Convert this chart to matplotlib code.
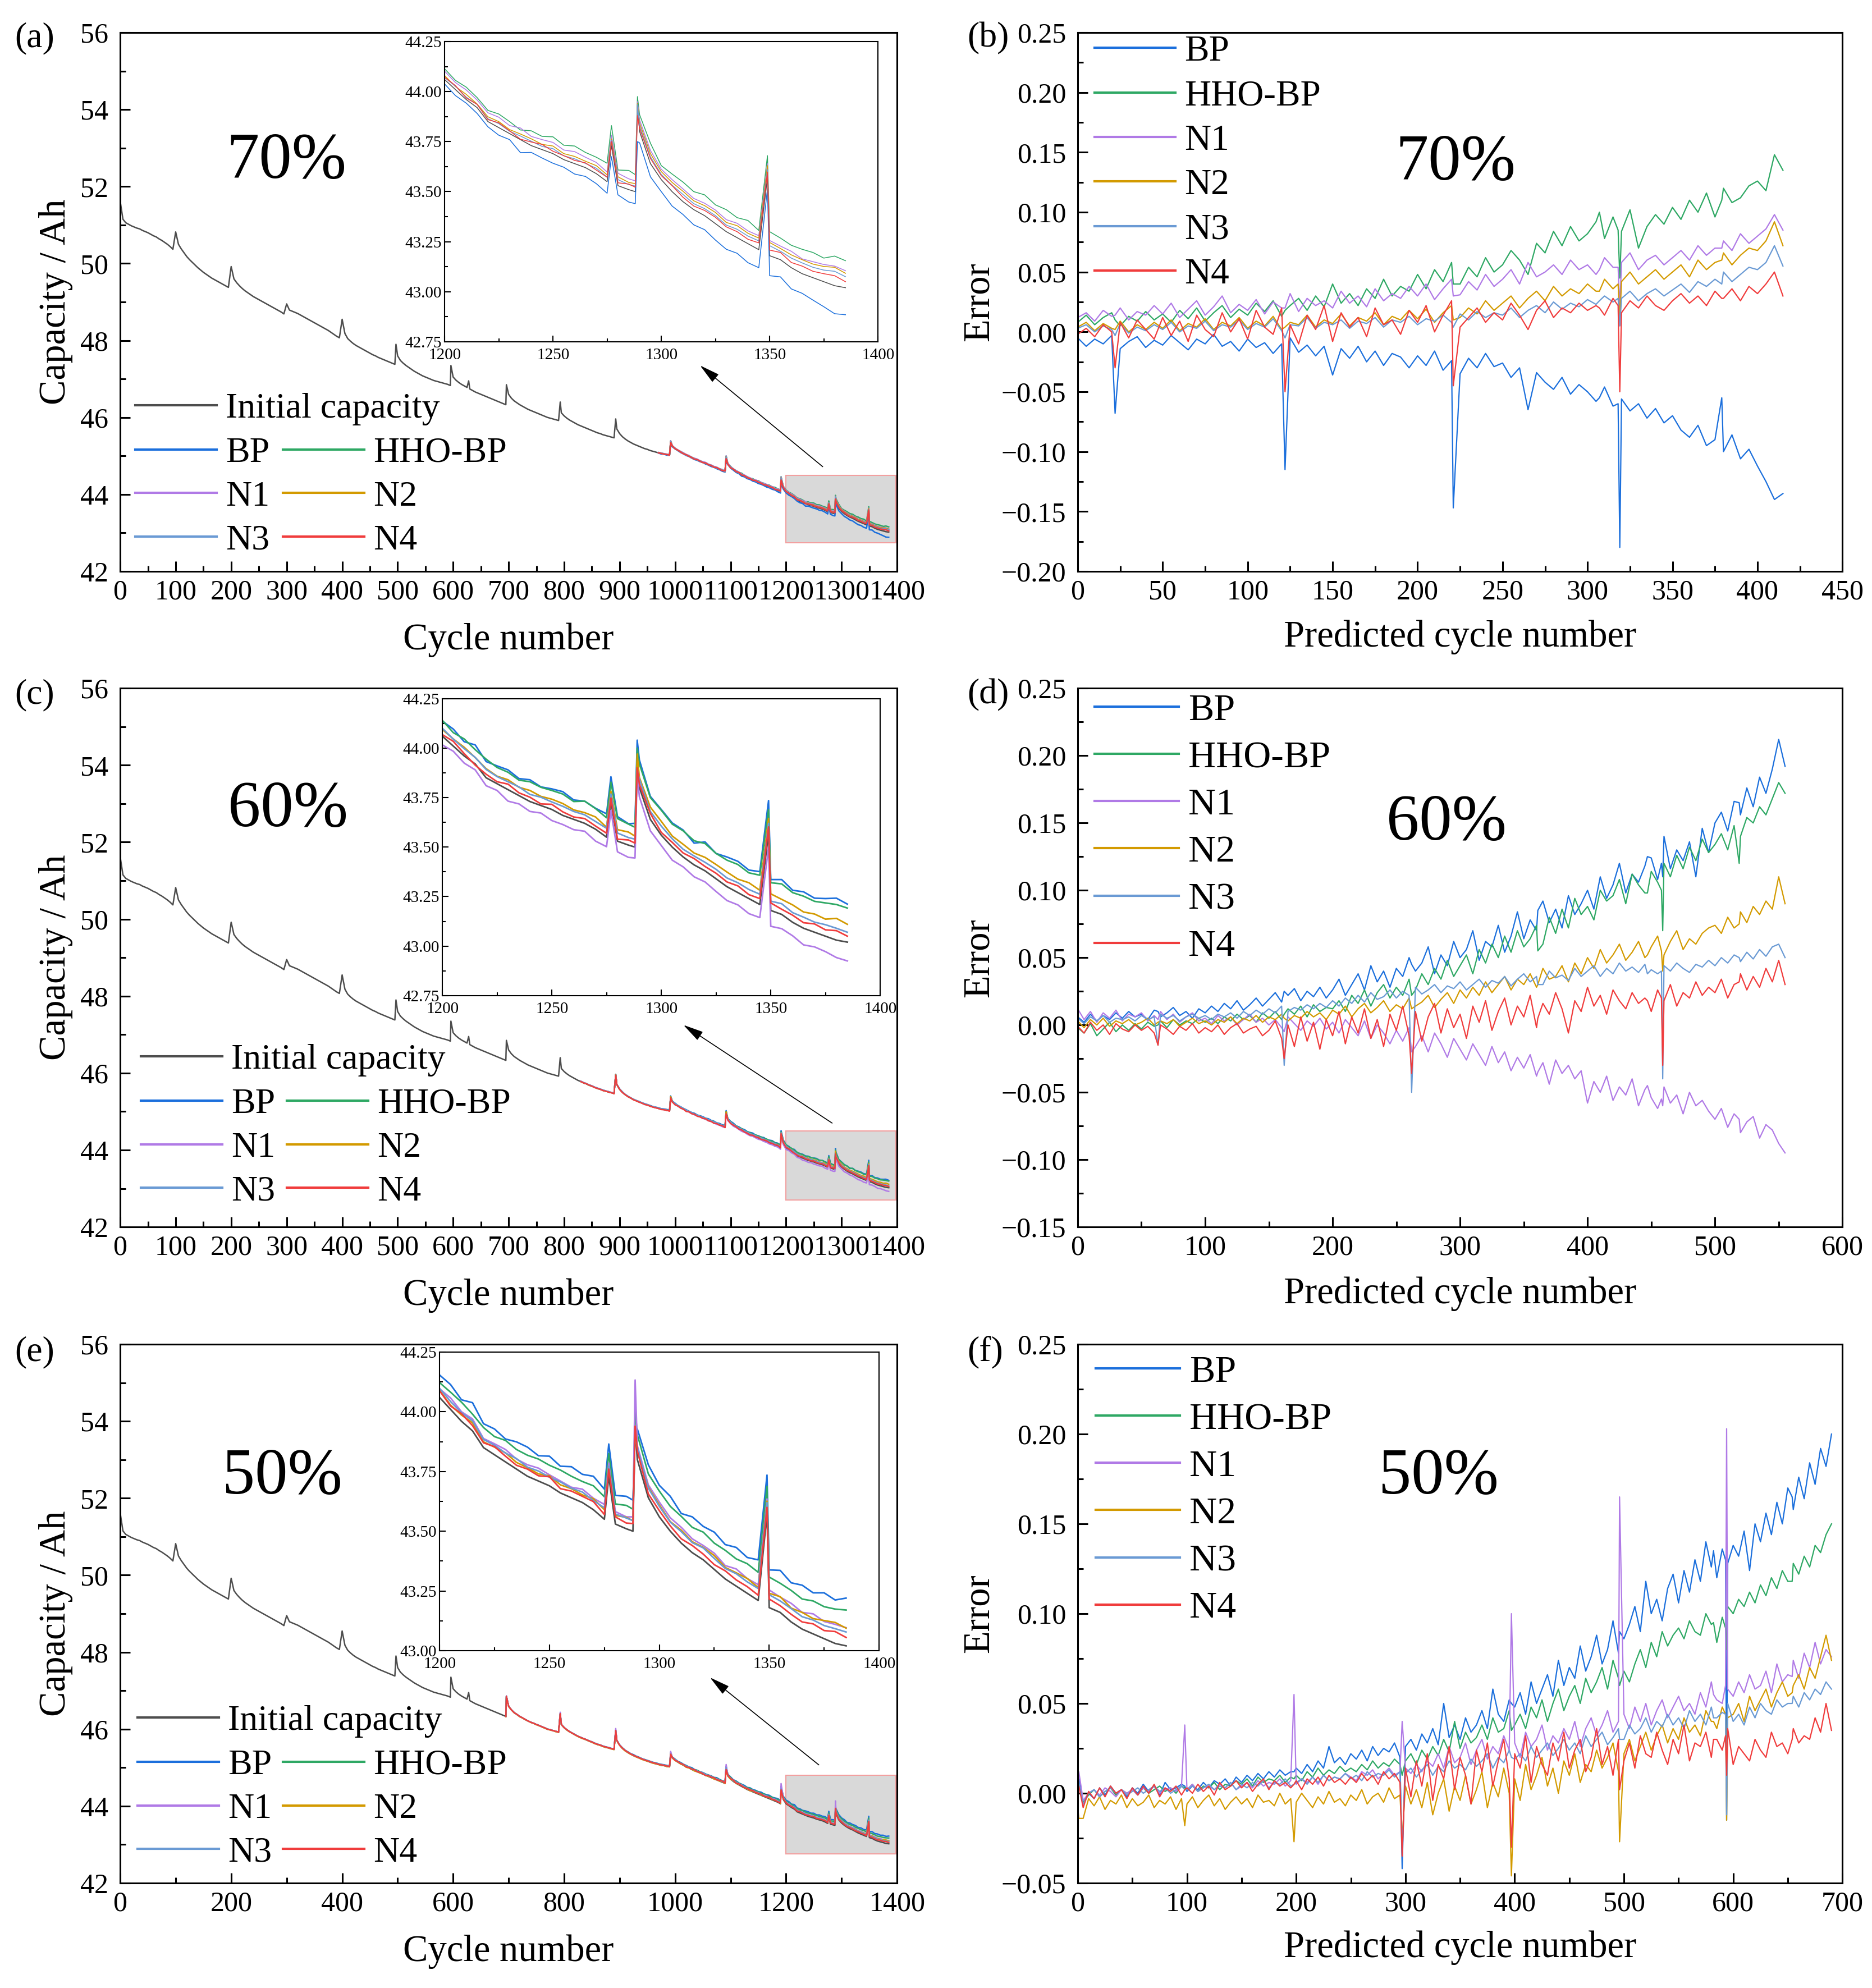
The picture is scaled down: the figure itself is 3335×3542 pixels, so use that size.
import numpy as np
import matplotlib
matplotlib.use('Agg')
import matplotlib.pyplot as plt
from matplotlib.patches import Rectangle
from matplotlib.ticker import MultipleLocator, FuncFormatter

plt.rcParams['font.family'] = ['Liberation Serif', 'DejaVu Serif']

# ---- measured capacity (Ah), one value every 5 cycles from cycle 0 to 1385
cap_init = [
    51.62, 51.15, 51.06, 51.02, 50.98, 50.95, 50.92, 50.90, 50.86, 50.83,
    50.80, 50.76, 50.72, 50.69, 50.64, 50.60, 50.55, 50.50, 50.44, 50.37,
    50.82, 50.50, 50.38, 50.28, 50.18, 50.10, 50.03, 49.96, 49.89, 49.83,
    49.77, 49.72, 49.67, 49.62, 49.58, 49.54, 49.50, 49.46, 49.42, 49.38,
    49.92, 49.60, 49.50, 49.42, 49.35, 49.29, 49.24, 49.19, 49.14, 49.10,
    49.06, 49.02, 48.98, 48.94, 48.90, 48.86, 48.82, 48.78, 48.74, 48.69,
    48.95, 48.79, 48.76, 48.73, 48.70, 48.66, 48.62, 48.58, 48.54, 48.50,
    48.46, 48.42, 48.38, 48.34, 48.30, 48.26, 48.21, 48.16, 48.11, 48.07,
    48.55, 48.18, 48.05, 47.98, 47.92, 47.87, 47.83, 47.79, 47.75, 47.71,
    47.67, 47.63, 47.60, 47.56, 47.53, 47.50, 47.47, 47.44, 47.41, 47.38,
    47.60, 47.48, 47.41, 47.35, 47.30, 47.25, 47.20, 47.16, 47.12, 47.08,
    47.05, 47.02, 46.99, 46.96, 46.94, 46.92, 46.90, 46.88, 46.86, 46.83,
    47.05, 46.97, 46.91, 46.86, 46.82, 46.78, 46.74, 46.70, 46.66, 46.63,
    46.60, 46.57, 46.54, 46.51, 46.48, 46.45, 46.42, 46.39, 46.36, 46.33,
    46.60, 46.50, 46.43, 46.38, 46.33, 46.29, 46.25, 46.21, 46.18, 46.15,
    46.12, 46.09, 46.06, 46.03, 46.00, 45.98, 45.96, 45.94, 45.92, 46.12,
    46.04, 45.98, 45.93, 45.89, 45.85, 45.81, 45.78, 45.75, 45.72, 45.69,
    45.66, 45.63, 45.60, 45.58, 45.55, 45.53, 45.51, 45.49, 45.47, 45.70,
    45.58, 45.50, 45.44, 45.39, 45.35, 45.31, 45.28, 45.25, 45.22, 45.19,
    45.17, 45.14, 45.12, 45.10, 45.08, 45.06, 45.05, 45.03, 45.02, 45.25,
    45.19, 45.14, 45.10, 45.06, 45.02, 44.99, 44.95, 44.92, 44.89, 44.86,
    44.83, 44.80, 44.77, 44.74, 44.71, 44.68, 44.65, 44.62, 44.59, 44.78,
    44.70, 44.64, 44.59, 44.55, 44.51, 44.47, 44.43, 44.40, 44.37, 44.34,
    44.31, 44.28, 44.25, 44.22, 44.19, 44.16, 44.13, 44.10, 44.06, 44.17,
    44.06, 44.01, 43.96, 43.92, 43.85, 43.82, 43.79, 43.76, 43.73, 43.71,
    43.69, 43.66, 43.64, 43.62, 43.59, 43.55, 43.53, 43.51, 43.80, 43.64,
    43.56, 43.50, 43.45, 43.41, 43.38, 43.34, 43.30, 43.27, 43.24, 43.21,
    43.18, 43.16, 43.12, 43.09, 43.07, 43.05, 43.03, 43.02,
]
# capacity recovery peaks between the 5-cycle samples
peak_cycles = [497, 596, 628, 696, 793, 893, 992, 1092, 1191, 1277, 1288, 1289, 1349]
peak_cap = [47.90, 47.35, 46.95, 46.85, 46.40, 45.96, 45.38, 44.98, 44.42, 43.73, 43.50, 43.93, 43.57]

names = ['BP', 'HHO-BP', 'N1', 'N2', 'N3', 'N4']

# ---- prediction error x1000, 70 % training (prediction starts at cycle 970)
e70_bp = [
    -5, -12, -6, -10, -3, -14, -8, -4, -13, -7,
    -11, -3, -9, -15, -6, -10, -2, -12, -8, -16,
    -6, -13, -9, -18, -10, -5, -17, -11, -20, -12,
    -36, -14, -22, -12, -25, -16, -28, -18, -21, -30,
    -20, -28, -16, -32, -24, -35, -22, -30, -18, -29,
    -26, -38, -30, -65, -34, -42, -48, -38, -52, -44,
    -50, -58, -46, -62, -56, -66, -60, -72, -64, -76,
    -70, -82, -88, -78, -95, -90, -100, -86, -106, -98,
    -112, -125, -140, -135]
e70_hho = [
    8, 14, 6, 12, 16, 5, 13, 9, 17, 10,
    15, 8, 18, 11, 20, 9, 16, 22, 12, 19,
    14, 24, 17, 26, 13, 22, 28, 18, 30, 21,
    40, 24, 32, 22, 36, 28, 44, 30, 38, 34,
    48, 36, 52, 42, 58, 40, 54, 46, 62, 50,
    56, 68, 60, 48, 74, 66, 84, 72, 88, 76,
    82, 92, 78, 96, 84, 102, 70, 88, 98, 90,
    104, 94, 110, 100, 116, 96, 120, 108, 112, 122,
    126, 118, 148, 135]
e70_n1 = [
    12, 16, 9, 18, 13, 20, 10, 17, 14, 22,
    15, 24, 12, 19, 26, 14, 21, 30, 16, 23,
    18, 27, 15, 25, 20, 32, 17, 28, 22, 26,
    20, 34, 24, 30, 21, 36, 26, 32, 28, 38,
    30, 40, 27, 36, 44, 31, 42, 35, 48, 38,
    44, 52, 40, 58, 46, 50, 56, 48, 60, 52,
    56, 48, 62, 54, 58, 66, 52, 60, 64, 56,
    62, 68, 60, 72, 64, 70, 76, 68, 82, 74,
    80, 86, 98, 85]
e70_n2 = [
    4, 8, 1, 7, 3, 9, 0, 6, 2, 8,
    3, 10, 1, 7, 4, 11, 2, 8, 5, 12,
    3, 9, 5, 13, 2, 8, 6, 14, 4, 10,
    7, 15, 5, 12, 9, 16, 6, 13, 10, 18,
    11, 19, 8, 16, 22, 12, 20, 15, 26, 18,
    24, 30, 20, 28, 34, 26, 38, 30, 36, 32,
    40, 34, 44, 36, 42, 50, 40, 46, 52, 44,
    50, 56, 46, 60, 52, 58, 66, 56, 64, 70,
    68, 76, 92, 72]
e70_n3 = [
    3, 6, 0, 5, 2, 7, -1, 4, 1, 6,
    2, 8, 0, 5, 3, 9, 1, 6, 4, 10,
    2, 7, 4, 11, 1, 6, 5, 12, 3, 8,
    6, 10, 3, 9, 7, 12, 4, 10, 8, 13,
    6, 11, 9, 14, 8, 15, 10, 17, 12, 16,
    14, 20, 12, 18, 22, 16, 25, 19, 24, 21,
    27, 23, 30, 25, 28, 34, 26, 32, 36, 30,
    35, 40, 33, 42, 38, 44, 50, 42, 48, 54,
    52, 58, 72, 55]
e70_n4 = [
    -2, 3, -4, 6, 0, 8, -5, 10, 2, -6,
    12, -3, 9, -8, 14, 2, -4, 16, 0, 11,
    -6, 18, 4, -2, 20, 6, -10, 14, 2, 22,
    -8, 16, 4, 12, -4, 20, 6, 10, -2, 18,
    8, 22, 0, 14, 26, 4, 12, 20, 8, 16,
    10, 24, 14, 2, 18, 26, 12, 20, 16, 24,
    18, 22, 14, 28, 16, 26, 20, 30, 22, 18,
    26, 32, 24, 30, 22, 34, 28, 36, 26, 38,
    32, 40, 50, 30]
# errors at the peak cycles 992, 1092, 1191, 1277, 1288, 1289, 1349
p70_bp = [-68, -115, -147, -55, -60, -180, -55]
p70_hho = [10, 18, 40, 100, 85, 45, 110]
p70_n1 = [14, 20, 30, 52, 54, 20, 70]
p70_n2 = [2, 4, 10, 34, 40, 10, 60]
p70_n3 = [-3, -5, 4, 26, 28, 5, 40]
p70_n4 = [-30, -50, -45, 20, 22, -50, 28]

# ---- 60 % training (prediction starts at cycle 830)
e60_bp = [
    6, 2, 8, 3, 7, 4, 9, 5, 10, 6,
    8, 4, 11, 6, 9, 13, 7, 10, 5, 12,
    9, 14, 10, 16, 12, 18, 11, 15, 20, 14,
    19, 24, 17, 22, 27, 18, 25, 21, 28, 20,
    26, 34, 22, 30, 38, 26, 44, 32, 40, 28,
    42, 36, 50, 40, 46, 58, 38, 52, 44, 62,
    50, 56, 70, 48, 62, 58, 74, 54, 66, 84,
    64, 78, 70, 92, 76, 86, 72, 96, 82, 90,
    100, 86, 110, 94, 104, 120, 98, 112, 106, 118,
    124, 108, 140, 116, 130, 122, 136, 110, 146, 128,
    150, 158, 144, 166, 156, 176, 162, 184, 172, 190,
    212, 192]
e60_hho = [
    -2, -6, 1, -8, -3, 2, -5, 0, -4, 1,
    -3, 2, -1, 3, -2, 4, 0, 3, 1, 5,
    2, 5, 1, 6, 3, 8, 4, 7, 2, 9,
    5, 10, 4, 12, 8, 14, 6, 15, 10, 13,
    12, 18, 10, 22, 16, 26, 14, 24, 30, 20,
    28, 22, 34, 26, 38, 30, 42, 34, 48, 36,
    44, 52, 38, 56, 46, 60, 50, 66, 54, 70,
    58, 64, 74, 60, 80, 68, 86, 72, 94, 82,
    88, 78, 100, 92, 96, 108, 90, 112, 104, 98,
    114, 106, 120, 110, 126, 116, 132, 122, 138, 128,
    134, 142, 130, 148, 140, 154, 150, 162, 156, 168,
    180, 172]
e60_n1 = [
    12, 4, 10, 2, 9, 5, 11, 3, 8, 6,
    9, 3, 7, 10, 4, 8, 2, 6, 9, 3,
    5, 1, 7, 3, 6, 0, 4, 8, 2, 5,
    0, 4, -2, 6, 1, -4, 3, -1, 5, -3,
    2, -6, 4, -2, -8, 3, -10, 0, -6, -14,
    -4, -12, -2, -16, -8, -20, -6, -14, -24, -10,
    -18, -26, -14, -22, -30, -16, -28, -20, -34, -24,
    -32, -22, -38, -28, -44, -26, -36, -30, -40, -34,
    -58, -42, -50, -38, -56, -46, -52, -40, -60, -48,
    -54, -62, -46, -58, -52, -66, -50, -60, -56, -64,
    -70, -62, -76, -66, -80, -72, -68, -84, -74, -78,
    -88, -95]
e60_n2 = [
    3, -2, 4, 0, 5, -1, 3, 1, 4, 0,
    2, 5, 0, 3, 1, 4, -1, 2, 5, 1,
    3, 0, 4, 2, 6, 1, 5, 3, 7, 2,
    6, 4, 8, 3, 7, 5, 10, 6, 9, 4,
    11, 8, 14, 6, 12, 16, 9, 13, 18, 10,
    15, 12, 20, 14, 17, 22, 13, 19, 24, 16,
    26, 20, 28, 22, 32, 24, 30, 36, 26, 34,
    30, 38, 28, 42, 34, 36, 44, 32, 46, 38,
    50, 42, 56, 46, 52, 60, 48, 54, 62, 50,
    58, 66, 52, 62, 70, 56, 64, 60, 68, 72,
    74, 68, 80, 72, 84, 76, 88, 82, 92, 86,
    110, 90]
e60_n3 = [
    5, 1, 6, 3, 7, 2, 5, 4, 6, 3,
    7, 4, 6, 8, 5, 7, 3, 6, 8, 5,
    7, 4, 8, 6, 9, 5, 10, 7, 11, 8,
    12, 9, 14, 10, 13, 11, 15, 12, 16, 13,
    18, 14, 20, 16, 22, 17, 24, 19, 21, 26,
    20, 25, 22, 28, 23, 26, 30, 24, 29, 27,
    32, 26, 30, 34, 28, 33, 31, 36, 29, 34,
    38, 32, 36, 30, 40, 35, 37, 33, 42, 36,
    40, 44, 36, 42, 38, 46, 40, 43, 39, 45,
    41, 38, 44, 40, 46, 42, 39, 45, 43, 48,
    44, 50, 46, 52, 47, 54, 49, 56, 51, 58,
    60, 50]
e60_n4 = [
    -1, -6, 2, -4, 0, -7, 1, -3, -5, 0,
    -4, -1, -6, 0, -3, -7, -1, -4, 1, -6,
    -2, -5, 0, -7, -2, 1, -6, -3, -1, -8,
    -4, 3, -10, 0, -16, 6, -12, 2, -18, 4,
    -8, 10, -14, 6, -6, 12, -10, 4, -16, 8,
    -4, 14, -8, 10, -12, 6, 16, -6, 12, -2,
    8, -10, 14, 2, 18, -4, 10, 20, 0, 14,
    6, 22, -2, 16, 8, 24, 12, -6, 18, 10,
    28, 14, 22, 8, 26, 18, 12, 24, 16, 20,
    10, 26, 18, 30, 14, 24, 20, 32, 22, 28,
    24, 34, 20, 30, 38, 26, 36, 28, 42, 32,
    48, 30]
# errors at the peak cycles 893, 992, 1092, 1191, 1277, 1288, 1289, 1349
p60_bp = [10, 25, 45, 85, 125, 120, 110, 165]
p60_hho = [0, 8, 22, 55, 98, 100, 70, 120]
p60_n1 = [4, -5, -20, -35, -45, -55, -60, -70]
p60_n2 = [2, 5, 12, 30, 52, 55, 40, 75]
p60_n3 = [-15, -30, -50, 30, 38, 40, -40, 50]
p60_n4 = [-15, -25, -36, 5, 18, 20, -30, 32]

# ---- 50 % training (prediction starts at cycle 695)
e50_bp = [
    2, -6, 0, -3, 3, -1, 4, 0, 2, -2,
    3, 0, 5, 1, 4, -1, 6, 2, 3, 5,
    1, 4, 2, 6, 3, 7, 5, 8, 4, 9,
    6, 10, 7, 11, 8, 12, 9, 13, 10, 12,
    14, 11, 16, 12, 18, 14, 26, 17, 20, 16,
    22, 19, 24, 18, 26, 21, 25, 23, 28, 20,
    26, 30, 24, 33, 28, 36, 27, 50, 31, 38,
    30, 42, 34, 38, 46, 36, 58, 44, 40, 52,
    48, 56, 44, 62, 50, 58, 66, 54, 74, 60,
    70, 64, 82, 68, 76, 88, 72, 80, 96, 78,
    86, 94, 104, 90, 118, 100, 108, 96, 114, 122,
    106, 124, 112, 130, 118, 140, 126, 120, 136, 128,
    138, 132, 146, 124, 150, 140, 156, 144, 162, 150,
    170, 158, 176, 164, 184, 172, 192, 182, 200]
e50_hho = [
    1, -5, -1, 2, -2, 1, 3, -1, 2, 0,
    2, -1, 3, 0, 2, 4, 1, 3, 0, 4,
    2, 5, 1, 4, 3, 6, 2, 5, 4, 7,
    5, 8, 4, 9, 6, 8, 7, 10, 6, 9,
    10, 7, 12, 9, 14, 10, 13, 11, 15, 12,
    14, 12, 16, 13, 18, 14, 17, 15, 19, 16,
    18, 22, 16, 24, 19, 26, 21, 30, 23, 40,
    25, 34, 28, 31, 38, 30, 42, 34, 36, 46,
    38, 44, 36, 48, 42, 52, 40, 50, 58, 46,
    54, 60, 50, 64, 56, 62, 70, 58, 74, 64,
    68, 62, 72, 80, 70, 84, 76, 90, 82, 88,
    92, 86, 96, 90, 88, 100, 94, 84, 98, 104,
    100, 108, 104, 112, 106, 116, 110, 120, 114, 124,
    118, 128, 122, 132, 126, 138, 134, 144, 150]
e50_n1 = [
    3, -4, 0, 2, -1, 3, 1, -2, 2, 0,
    2, -1, 3, 1, 4, 0, 2, 3, 1, 4,
    2, 5, 1, 3, 4, 2, 5, 3, 6, 2,
    4, 6, 3, 7, 4, 6, 5, 8, 4, 7,
    5, 8, 6, 9, 5, 10, 7, 9, 8, 11,
    9, 7, 12, 10, 13, 8, 11, 14, 10, 12,
    14, 11, 16, 12, 18, 15, 22, 14, 26, 17,
    20, 28, 16, 24, 30, 19, 26, 22, 32, 24,
    28, 20, 34, 26, 30, 38, 24, 32, 28, 36,
    30, 40, 26, 36, 42, 32, 38, 46, 34, 40,
    44, 36, 48, 40, 50, 38, 46, 52, 42, 48,
    54, 46, 50, 44, 56, 48, 62, 52, 50, 58,
    54, 62, 56, 66, 58, 60, 68, 56, 72, 62,
    66, 74, 64, 78, 70, 84, 72, 80, 76]
e50_n2 = [
    -8, -14, -3, -7, -2, -9, -4, -6, -1, -8,
    -3, -7, -5, -1, -8, -4, -6, -2, -9, -3,
    -6, -2, -8, -4, -1, -7, -3, -9, -5, -2,
    -6, -3, -8, -1, -5, -4, -7, 0, -6, -3,
    -5, 0, -4, -8, -2, -6, 1, -5, -3, -7,
    -1, -4, 2, -6, -2, 0, -5, 3, -3, -1,
    4, -6, 2, -8, 6, -12, 0, 8, -10, 4,
    -4, 10, -6, 2, 12, -8, 6, -2, 14, 0,
    8, -4, 16, 2, 10, 20, 4, 14, 0, 18,
    10, 22, 6, 16, 12, 24, 14, 20, 28, 12,
    22, 30, 18, 26, 34, 24, 32, 38, 28, 36,
    30, 42, 34, 38, 32, 46, 40, 36, 48, 42,
    44, 50, 40, 54, 46, 52, 58, 48, 56, 62,
    54, 60, 66, 58, 70, 64, 76, 88, 74]
e50_n3 = [
    1, -6, 0, 2, -2, 1, 3, 0, 2, -1,
    1, 3, 0, 2, 4, 1, 3, 0, 2, 4,
    2, 4, 1, 3, 5, 2, 4, 3, 6, 2,
    5, 3, 6, 4, 7, 3, 6, 5, 8, 4,
    6, 8, 5, 9, 6, 10, 7, 9, 8, 11,
    8, 10, 7, 12, 9, 11, 10, 13, 9, 12,
    11, 14, 9, 13, 16, 10, 15, 12, 18, 14,
    16, 13, 19, 15, 18, 22, 14, 20, 17, 24,
    19, 22, 18, 26, 20, 24, 28, 21, 25, 30,
    24, 28, 22, 32, 26, 30, 34, 27, 31, 36,
    30, 38, 33, 36, 42, 34, 40, 37, 44, 38,
    42, 36, 46, 40, 44, 38, 48, 42, 45, 50,
    40, 44, 38, 48, 42, 50, 46, 44, 52, 48,
    50, 54, 48, 56, 52, 58, 55, 62, 58]
e50_n4 = [
    2, -8, 1, -3, 3, -2, 4, 0, 2, -3,
    3, -1, 4, 0, 5, -2, 3, 1, 4, -1,
    3, 0, 5, 1, 4, -1, 6, 2, 4, 7,
    3, 6, 1, 5, 8, 2, 7, 4, 6, 3,
    7, 2, 8, 5, 9, 4, 10, 6, 8, 5,
    9, 6, 11, 7, 10, 5, 12, 8, 11, 6,
    14, -2, 18, 4, 22, -4, 16, 8, 26, 2,
    20, 10, -6, 24, 12, 28, 4, 18, 30, 8,
    22, 14, 32, 6, 26, 16, 10, 28, 18, 34,
    14, 24, 30, 12, 20, 36, 16, 26, 10, 30,
    18, 28, 14, 32, 22, 20, 34, 24, 16, 30,
    22, 38, 18, 28, 26, 34, 20, 30, 24, 36,
    16, 26, 22, 18, 30, 24, 20, 34, 26, 28,
    22, 36, 28, 32, 30, 42, 34, 50, 35]
# errors at the peak cycles 696, 793, 893, 992, 1092, 1191, 1277, 1288, 1289, 1349
p50_bp = [8, 4, 12, -42, 50, 90, 135, 130, -15, 165]
p50_hho = [4, 3, 8, 10, 35, 60, 95, 92, 80, 118]
p50_n1 = [12, 38, 55, 40, 100, 165, 55, 60, 203, 65]
p50_n2 = [-14, -18, -27, -25, -46, -27, 40, 44, -15, 56]
p50_n3 = [6, 2, 5, -30, 20, 30, 42, 44, -12, 50]
p50_n4 = [4, 2, 5, -35, -30, 2, 30, 32, 10, 30]

colors = ['#1b6fdc', '#2ea864', '#b07ae6', '#d39a00', '#6a9ad4', '#f03c3c']
c_init = '#4d4d4d'

cases = [
    dict(pct='70%', start=970,
         errs=[e70_bp, e70_hho, e70_n1, e70_n2, e70_n3, e70_n4],
         peaks=[p70_bp, p70_hho, p70_n1, p70_n2, p70_n3, p70_n4]),
    dict(pct='60%', start=830,
         errs=[e60_bp, e60_hho, e60_n1, e60_n2, e60_n3, e60_n4],
         peaks=[p60_bp, p60_hho, p60_n1, p60_n2, p60_n3, p60_n4]),
    dict(pct='50%', start=695,
         errs=[e50_bp, e50_hho, e50_n1, e50_n2, e50_n3, e50_n4],
         peaks=[p50_bp, p50_hho, p50_n1, p50_n2, p50_n3, p50_n4]),
]

# layout of each row (figure pixels / fractions)
W, H = 3335, 3542
layout = [
    dict(bottom=0.7126, inset=[0.2375, 0.8281, 0.2315, 0.151], ins_ylim=(42.75, 44.25),
         ins_lw=1.1, rect_y=(42.75, 44.5), arrow=((1266, 44.72), (1045, 47.35)),
         pct_l=(0.214, 0.759), pct_r=(0.494, 0.756), xstep=100, emax=(-0.20, 0.25, 450, 50),
         leg_l=(241, 728, 807, 504), leg_r=(1950, 92), lab=('(a)', '(b)'), laby=68,
         xl_l=-0.095, xl_r=-0.09, legfs_r=47, ls_r=0.3),
    dict(bottom=0.3828, inset=[0.2363, 0.4992, 0.2339, 0.1494], ins_ylim=(42.75, 44.25),
         ins_lw=2.0, rect_y=(42.7, 44.5), arrow=((1283, 44.7), (1015, 47.25)),
         pct_l=(0.216, 0.773), pct_r=(0.482, 0.748), xstep=100, emax=(-0.15, 0.25, 600, 100),
         leg_l=(251, 1888, 1967, 511), leg_r=(1950, 1266), lab=('(c)', '(d)'), laby=1238,
         xl_l=-0.095, xl_r=-0.092, legfs_r=49, ls_r=0.33),
    dict(bottom=0.0528, inset=[0.2348, 0.1697, 0.2348, 0.1502], ins_ylim=(43.0, 44.25),
         ins_lw=2.0, rect_y=(42.76, 44.8), arrow=((1259, 45.07), (1063, 47.34)),
         pct_l=(0.209, 0.752), pct_r=(0.472, 0.752), xstep=200, emax=(-0.05, 0.25, 700, 100),
         leg_l=(245, 3066, 3145, 504), leg_r=(1952, 2445), lab=('(e)', '(f)'), laby=2409,
         xl_l=-0.095, xl_r=-0.088, legfs_r=49, ls_r=0.33),
]

two_dec = FuncFormatter(lambda v, pos: ('%.2f' % v).replace('-', '\u2212'))


def merged(x, y, xs, ys):
    x = np.concatenate([np.asarray(x, float), np.asarray(xs, float)])
    y = np.concatenate([np.asarray(y, float), np.asarray(ys, float)])
    o = np.argsort(x, kind='stable')
    return x[o], y[o]


def style(ax, lmaj, lmin, w, fs, padx, pady):
    ax.tick_params(which='both', direction='in', top=False, right=False, width=w)
    ax.tick_params(which='major', length=lmaj)
    ax.tick_params(which='minor', length=lmin)
    ax.tick_params(axis='x', labelsize=fs, pad=padx)
    ax.tick_params(axis='y', labelsize=fs, pad=pady)
    for s in ax.spines.values():
        s.set_linewidth(w)


def fig_xy(px, py):
    return px / W, 1 - py / H


fig = plt.figure(figsize=(W / 100, H / 100), dpi=100)

cyc = np.arange(len(cap_init)) * 5
x_init, y_init = merged(cyc, cap_init, peak_cycles, peak_cap)
cap_arr = np.array(cap_init)
pk_c = np.array(peak_cycles)
pk_v = np.array(peak_cap)

for case, lay in zip(cases, layout):
    s = case['start']
    k = s // 5
    gc = cyc[k:]
    gv = cap_arr[k:]
    sel = pk_c >= s
    ec, ev = pk_c[sel], pk_v[sel]

    ax = fig.add_axes([0.0642, lay['bottom'], 0.415, 0.271])
    axe = fig.add_axes([0.5757, lay['bottom'], 0.4085, 0.271])
    axi = fig.add_axes(lay['inset'])

    y0, y1 = lay['rect_y']
    ax.add_patch(Rectangle((1200, y0), 198, y1 - y0, facecolor='#d9d9d9',
                           edgecolor='#f2a0a0', lw=1.5, zorder=1))
    h_init, = ax.plot(x_init, y_init, color=c_init, lw=1.8, zorder=2, label='Initial capacity')
    axi.plot(x_init, y_init, color=c_init, lw=lay['ins_lw'])

    handles = []
    for name, col, err, pk in zip(names, colors, case['errs'], case['peaks']):
        n = min(len(err), len(gc))
        e = np.array(err[:n]) / 1000.0
        ep = np.array(pk) / 1000.0
        xc, yc = merged(gc[:n], gv[:n] + e, ec, ev + ep)
        h, = ax.plot(xc, yc, color=col, lw=1.8, zorder=2, label=name)
        axi.plot(xc, yc, color=col, lw=lay['ins_lw'])
        xe, ye = merged(gc[:n] - s, e, ec - s, ep)
        axe.plot(xe, ye, color=col, lw=1.6, label=name)
        handles.append(h)

    # capacity panel
    ax.set_xlim(0, 1400)
    ax.set_ylim(42, 56)
    ax.xaxis.set_major_locator(MultipleLocator(lay['xstep']))
    ax.xaxis.set_minor_locator(MultipleLocator(lay['xstep'] / 2))
    ax.yaxis.set_major_locator(MultipleLocator(2))
    ax.yaxis.set_minor_locator(MultipleLocator(1))
    style(ax, 13, 7, 2.2, 36, 10, 15)
    ax.set_xlabel('Cycle number', fontsize=48)
    ax.set_ylabel('Capacity / Ah', fontsize=48)
    ax.xaxis.set_label_coords(0.5, lay['xl_l'])
    ax.yaxis.set_label_coords(-0.061, 0.5)
    ax.text(*lay['pct_l'], case['pct'], transform=ax.transAxes, ha='center',
            va='center', fontsize=84)
    ax.annotate('', xy=lay['arrow'][1], xytext=lay['arrow'][0],
                arrowprops=dict(arrowstyle='-|>,head_length=0.9,head_width=0.22',
                                color='k', lw=1.2, mutation_scale=25,
                                shrinkA=0, shrinkB=0))

    fs = 46
    fpx = fs * 100 / 72
    lx, ly1, ly2, lx2 = lay['leg_l']
    common = dict(frameon=False, borderpad=0, borderaxespad=0, handlelength=2.27,
                  handletextpad=0.25, labelspacing=0.3, fontsize=fs,
                  loc='upper left', bbox_transform=fig.transFigure)
    l1 = ax.legend([h_init], ['Initial capacity'],
                   bbox_to_anchor=fig_xy(lx, ly1 - 0.45 * fpx), **common)
    ax.add_artist(l1)
    l2 = ax.legend([handles[0], handles[2], handles[4]], ['BP', 'N1', 'N3'],
                   bbox_to_anchor=fig_xy(lx, ly2 - 0.45 * fpx), **common)
    ax.add_artist(l2)
    l3 = ax.legend([handles[1], handles[3], handles[5]], ['HHO-BP', 'N2', 'N4'],
                   bbox_to_anchor=fig_xy(lx2, ly2 - 0.45 * fpx), **common)
    for lg in (l1, l2, l3):
        for ln in lg.get_lines():
            ln.set_linewidth(3)

    # inset
    axi.set_xlim(1200, 1400)
    axi.set_ylim(*lay['ins_ylim'])
    axi.xaxis.set_major_locator(MultipleLocator(50))
    axi.xaxis.set_minor_locator(MultipleLocator(25))
    axi.yaxis.set_major_locator(MultipleLocator(0.25))
    axi.yaxis.set_minor_locator(MultipleLocator(0.125))
    axi.yaxis.set_major_formatter(two_dec)
    style(axi, 8, 4, 1.5, 21, 8, 4)

    # error panel
    emin, emax_, xmax, xst = lay['emax']
    axe.set_xlim(0, xmax)
    axe.set_ylim(emin, emax_)
    axe.xaxis.set_major_locator(MultipleLocator(xst))
    axe.xaxis.set_minor_locator(MultipleLocator(xst / 2))
    axe.yaxis.set_major_locator(MultipleLocator(0.05))
    axe.yaxis.set_minor_locator(MultipleLocator(0.025))
    axe.yaxis.set_major_formatter(two_dec)
    style(axe, 13, 7, 2.2, 36, 10, 15)
    axe.set_xlabel('Predicted cycle number', fontsize=48)
    axe.set_ylabel('Error', fontsize=48)
    axe.xaxis.set_label_coords(0.5, lay['xl_r'])
    axe.yaxis.set_label_coords(-0.1065, 0.5)
    axe.text(*lay['pct_r'], case['pct'], transform=axe.transAxes, ha='center',
             va='center', fontsize=84)
    rx, ry = lay['leg_r']
    fpr = lay['legfs_r'] * 100 / 72
    le = axe.legend(frameon=False, borderpad=0, borderaxespad=0, handlelength=2.2,
                    handletextpad=0.25, labelspacing=lay['ls_r'], fontsize=lay['legfs_r'],
                    loc='upper left', bbox_transform=fig.transFigure,
                    bbox_to_anchor=fig_xy(rx, ry - 0.45 * fpr))
    for ln in le.get_lines():
        ln.set_linewidth(3)

    fig.text(26 / W, 1 - lay['laby'] / H, lay['lab'][0], ha='left', va='center', fontsize=46)
    fig.text(1723 / W, 1 - lay['laby'] / H, lay['lab'][1], ha='left', va='center', fontsize=46)

fig.savefig('out.png', dpi=100)
